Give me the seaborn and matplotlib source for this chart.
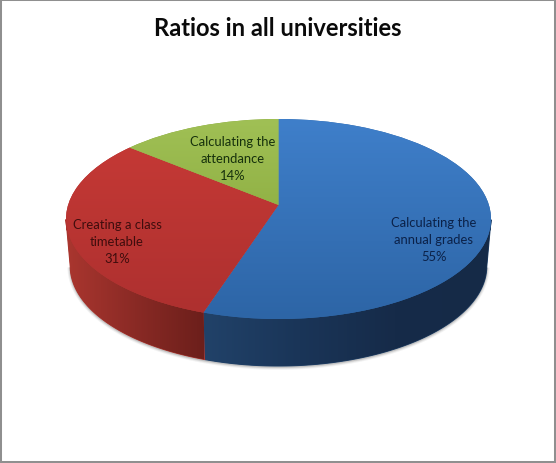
import numpy as np
import matplotlib
matplotlib.use('Agg')
import matplotlib.pyplot as plt
from matplotlib.patches import Polygon
from matplotlib.transforms import Transform
import seaborn as sns

categories = ['Calculating the\nannual grades', 'Creating a class\ntimetable', 'Calculating the\nattendance']
values = [55, 31, 14]

top_colors = [('#3f7fca', '#2d65a6'), ('#c83a36', '#ad302f'), ('#a0c055', '#7fa032')]
side_colors = [('#214269', '#1a3558', '#162b49', '#152a47'), ('#aa362f', '#8a2a25', '#6c1f1b'), None]
label_colors = ['#0b2148', '#3f0d0d', '#16300c']
label_px = [(434, 240), (117, 242), (233, 159)]

# pixel layout of the top ellipse
cx, cy, rx, ry = 278.5, 220, 212.5, 100
tilt = 0.14
depth = 0.47
taper = 0.98

sns.set_theme(style='white')
plt.rcParams['font.family'] = ['Lato', 'DejaVu Sans']


def squash(x, y):
    # perspective of the disc, the pie centre moves up but the rim stays
    d = 1 + tilt * y
    return x * np.sqrt(1 - tilt ** 2) / d, (y + tilt) / d


class Perspective(Transform):
    input_dims = 2
    output_dims = 2
    is_separable = False

    def transform_non_affine(self, values):
        x, y = squash(values[:, 0], values[:, 1])
        return np.column_stack([x, y])


fig, ax = plt.subplots(figsize=(5.56, 4.64), dpi=100)
fig.subplots_adjust(0, 0, 1, 1)

wedges, _ = ax.pie(values, startangle=90, counterclock=False, wedgeprops={'linewidth': 0})
ax.set_aspect('auto')
ax.set_frame_on(True)

xlim = (-cx / rx, (556 - cx) / rx)
ylim = ((cy - 464) / ry, cy / ry)
persp = Perspective()

for i, w in enumerate(wedges):
    t = np.radians(np.linspace(w.theta1, w.theta2, 500))
    x, y = squash(np.cos(t), np.sin(t))
    front = y < 0
    if side_colors[i] is not None and front.any():
        xf, yf = x[front], y[front]
        pts = np.r_[np.c_[xf, yf], np.c_[xf * taper, yf - depth][::-1]]
        # soft shadow under the rim
        for lw, a in [(4, 0.08), (2.5, 0.12), (1.2, 0.2)]:
            ax.plot(xf * taper, yf - depth - 0.01, color='#555555', lw=lw, alpha=a, zorder=1,
                    solid_capstyle='butt')
        side = Polygon(pts, closed=True, facecolor=side_colors[i][0], edgecolor=side_colors[i][0],
                       linewidth=0.8, zorder=2)
        ax.add_patch(side)
        grad = np.array(sns.blend_palette(side_colors[i], n_colors=128))[None, :, :]
        im = ax.imshow(grad, extent=(xf.min(), xf.max(), -1.6, 0.2), aspect='auto', zorder=3)
        im.set_clip_path(side)

    w.set_transform(persp + ax.transData)
    w.set_facecolor(top_colors[i][1])
    w.set_zorder(4)
    grad = np.array(sns.blend_palette(top_colors[i], n_colors=128))[:, None, :]
    im = ax.imshow(grad, extent=(-1, 1, -1, 1), aspect='auto', zorder=5)
    im.set_clip_path(w)

for cat, val, col, (px, py) in zip(categories, values, label_colors, label_px):
    ax.text((px - cx) / rx, (cy - py) / ry, f'{cat}\n{val}%', ha='center', va='center',
            fontsize=9.4, color=col, linespacing=1.5, zorder=6)

ax.set_xlim(xlim)
ax.set_ylim(ylim)
ax.set_xticks([])
ax.set_yticks([])
for s in ax.spines.values():
    s.set_color('#8f8f8f')
    s.set_linewidth(2.9)

fig.suptitle('Ratios in all universities', x=0.5, y=1 - 28.5 / 464, va='center',
             fontsize=17.1, fontweight='bold', color='#0a0a0a')

fig.savefig('out.png', dpi=100)
